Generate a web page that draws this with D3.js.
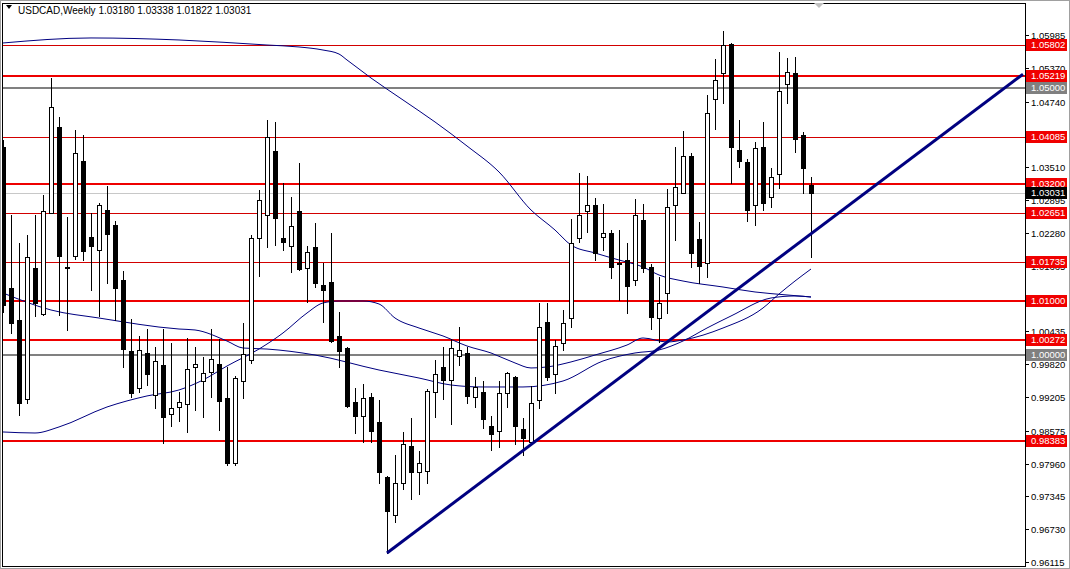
<!DOCTYPE html>
<meta charset="utf-8">
<style>
  body { margin: 0; background: #fff; }
  svg { display: block; font-family: "Liberation Sans", Arial, sans-serif; }
  .wick { stroke: #000; stroke-width: 1px; shape-rendering: crispEdges; }
  .ma { fill: none; stroke: #000080; stroke-width: 1px; }
  .tick text { font-size: 9.5px; fill: #000; }
</style>
<body>
<svg width="1070" height="569"></svg>
<script src="https://d3js.org/d3.v7.min.js"></script>
<script>
// weekly candles USDCAD, index 0 = leftmost bar on screen
var opens = [1.03891,1.01249,1.00650,0.99170,1.01624,1.00762,1.02655,1.04266,1.01624,1.01849,
  1.03629,1.02205,1.01961,1.02711,1.02429,1.01399,1.00069,0.99376,1.00032,0.99245,
  0.99807,0.98889,0.99020,0.99076,0.99770,0.99507,0.99676,0.99826,0.99189,0.97971,
  0.99507,0.99901,1.02186,1.02617,1.03816,1.02186,1.02037,1.02692,1.01624,1.02018,
  1.01305,1.01362,1.00351,1.00125,0.99114,0.98852,0.99208,0.98740,0.97709,0.96997,
  0.97597,0.98290,0.97803,0.97821,0.99302,0.99770,0.99526,0.99976,1.00032,0.99208,
  0.99302,0.98665,0.98570,0.99283,0.99582,0.98608,0.98365,0.99151,1.00613,0.99638,
  1.00219,1.00687,1.02186,1.02692,1.02804,1.02205,1.02280,1.01700,1.01774,1.01399,
  1.02523,1.01643,1.00687,1.01156,1.02804,1.03030,1.03723,1.02167,1.01718,1.04791,
  1.05278,1.05821,1.03835,1.03611,1.02804,1.03891,1.02955,1.03385,1.05071,1.05278,
  1.04116,1.03180];
var highs = [1.04022,1.02617,1.02093,1.02242,1.02617,1.02992,1.05184,1.04453,1.02580,1.04210,
  1.04116,1.02655,1.02842,1.03161,1.02504,1.01568,1.00668,1.00351,1.00481,1.00144,
  1.00481,1.00219,0.99302,1.00313,1.00144,0.99957,1.00481,1.00294,0.99770,0.99601,
  1.00594,1.02242,1.03086,1.04397,1.04360,1.03217,1.02955,1.03592,1.02037,1.02467,
  1.01718,1.02280,1.00800,1.00144,0.99376,0.99451,0.99283,0.99151,0.97720,0.98121,
  0.98552,0.98814,0.98196,0.99357,0.99901,1.00144,1.00294,1.00519,1.00144,0.99582,
  0.99507,0.98852,0.99507,0.99676,0.99601,0.98814,0.99414,1.00969,1.00969,1.00275,
  1.00837,1.02542,1.03404,1.03348,1.02936,1.02823,1.02336,1.02336,1.02093,1.02917,
  1.02823,1.01699,1.01456,1.03104,1.03891,1.04191,1.03779,1.02486,1.04865,1.05540,
  1.06064,1.05840,1.04397,1.03667,1.03985,1.04360,1.03498,1.05671,1.05558,1.05577,
  1.04173,1.03338];
var lows = [1.00800,1.00407,0.98870,0.99095,1.00725,1.00744,1.02655,1.00744,1.00463,1.01792,
  1.01774,1.01212,1.00725,1.01343,1.00650,0.99770,0.99208,0.99302,0.99432,0.99001,
  0.98346,0.98665,0.98758,0.98552,0.98964,0.98833,0.99208,0.98589,0.97933,0.97933,
  0.99189,0.99845,1.01475,1.02018,1.02055,1.01961,1.01550,1.01587,1.00988,1.01268,
  1.00613,1.00240,0.99770,0.99020,0.98533,0.98365,0.98365,0.97597,0.96285,0.96866,
  0.97484,0.97296,0.97390,0.97597,0.98833,0.99170,0.98702,0.99807,0.99095,0.99020,
  0.98627,0.98215,0.98271,0.99020,0.98327,0.98121,0.98346,0.99001,0.99526,0.99283,
  1.00088,1.00519,1.02112,1.02299,1.01774,1.01961,1.01437,1.01025,1.00781,1.01305,
  1.01550,1.00481,1.00238,1.00781,1.02149,1.03030,1.01643,1.01343,1.01456,1.04229,
  1.04716,1.03217,1.03517,1.02504,1.02429,1.02711,1.02767,1.03123,1.04716,1.03798,
  1.03030,1.01822];
var closes = [1.00931,1.00594,0.99095,1.01830,1.00969,1.02692,1.04641,1.01849,1.01634,1.03779,
  1.01942,1.02037,1.02804,1.02261,1.01249,1.00106,0.99283,1.00088,0.99638,0.99882,
  0.98833,0.99001,0.99114,0.99732,0.99826,0.99657,0.99919,0.99132,0.97971,0.99563,
  1.00013,1.02186,1.02898,1.04079,1.02561,1.02112,1.02411,1.01605,1.01924,1.01343,
  1.01212,1.00256,1.00069,0.99039,0.98852,0.99189,0.98570,0.97803,0.97072,0.97597,
  0.98327,0.97803,0.97971,0.99320,0.99638,0.99526,1.00125,1.00088,0.99227,0.99395,
  0.98796,0.98514,0.99283,0.99657,0.98665,0.98439,0.99095,1.00519,0.99582,1.00163,
  1.00594,1.02093,1.02617,1.02804,1.01905,1.02280,1.01643,1.01710,1.01287,1.02617,
  1.01624,1.00706,1.00969,1.02767,1.03142,1.03723,1.01905,1.01662,1.04528,1.05146,
  1.05802,1.03891,1.03629,1.02711,1.03872,1.02842,1.03329,1.04940,1.05297,1.04041,
  1.03498,1.03031];

// moving averages, read at some bar indexes
var maSlowIdx = [0,11,22,33,37,40,42,43,44,46,50,54,58,62,66,69,71,74,77,80,82,85,90,94,98,101];
var maSlowVal = [1.05840,1.05934,1.05896,1.05802,1.05765,1.05708,1.05633,1.05521,1.05409,1.05184,
  1.04772,1.04360,1.03910,1.03423,1.02711,1.02336,1.02055,1.01905,1.01774,1.01643,
  1.01493,1.01380,1.01268,1.01175,1.01119,1.01081];
var maMidIdx = [0,6,12,22,24,28,30,33,39,47,52,56,60,65,70,75,79,82,85,88,91,96,99,101];
var maMidVal = [1.01156,1.00837,1.00687,1.00481,1.00463,1.00256,1.00125,1.00106,0.99994,0.99713,
  0.99563,0.99432,0.99395,0.99395,0.99507,0.99882,1.00032,1.00088,1.00256,1.00500,
  1.00725,1.01062,1.01100,1.01081];
var maFastIdx = [0,4,7,13,18,22,25,28,32,35,38,40,42,45,47,49,52,55,58,61,64,66,68,71,74,78,80,83,85,90,95,97,99,101];
var maFastVal = [0.98552,0.98533,0.98646,0.99020,0.99227,0.99339,0.99526,0.99788,1.00106,1.00407,
  1.00781,1.00969,1.01006,1.01006,1.00950,1.00687,1.00500,1.00351,1.00163,1.00032,
  0.99845,0.99751,0.99770,0.99864,0.99994,1.00181,1.00313,1.00238,1.00275,1.00500,
  1.00875,1.01137,1.01380,1.01605];

// trend line (bar index, price)
var trendIdx = [48, 127.5];
var trendVal = [0.96285, 1.05255];

// horizontal levels
var levelPrices = [1.05802, 1.05219, 1.05000, 1.04085, 1.03200, 1.02651, 1.01735, 1.01000, 1.00272, 1.00000, 0.98383];
var levelKinds  = ["thin", "thick", "gray", "thin", "thick", "thin", "thin", "thick", "thick", "gray", "thick"];
var lastPrice = 1.03031;

// price scale ticks
var tickPrices = [1.05985,1.05370,1.04740,1.04125,1.03510,1.02895,1.02280,1.01665,1.01050,
  1.00435,0.99820,0.99205,0.98575,0.97960,0.97345,0.96730,0.96115];

var headerText = "USDCAD,Weekly  1.03180 1.03338 1.01822 1.03031";

//------------------------------------------------------------------------------
var svg = d3.select("svg");
var plotL = 2, plotT = 3, plotR = 1025, plotB = 566;

var x = d3.scaleLinear().domain([0, 127.5]).range([3, 1023]);
var y = d3.scaleLinear().domain([0.98383, 1.05802]).range([441, 45]);

function py(v) { return Math.round(y(v)) + 0.5; }

// outer window edge
svg.append("rect").attr("x", 0.5).attr("y", 0.5).attr("width", 1069).attr("height", 568)
  .attr("fill", "#fff").attr("stroke", "#a0a0a0");

svg.append("clipPath").attr("id", "plot")
  .append("rect").attr("x", plotL + 1).attr("y", plotT + 1)
  .attr("width", plotR - plotL - 1).attr("height", plotB - plotT - 1);

var g = svg.append("g").attr("clip-path", "url(#plot)");

// levels----------------------------------------------------------------------
var levels = levelPrices.map(function(p, i) { return { p: p, k: levelKinds[i] }; });

g.append("line")
  .attr("x1", plotL).attr("x2", plotR)
  .attr("y1", py(lastPrice)).attr("y2", py(lastPrice))
  .attr("stroke", "#c8c8c8").attr("stroke-width", 1);

g.selectAll(".level").data(levels).enter().append("line")
  .attr("class", "level")
  .attr("x1", plotL).attr("x2", plotR)
  .attr("y1", function(d) { return d.k == "thin" ? py(d.p) : Math.round(y(d.p)); })
  .attr("y2", function(d) { return d.k == "thin" ? py(d.p) : Math.round(y(d.p)); })
  .attr("stroke", function(d) { return d.k == "gray" ? "#808080" : (d.k == "thin" ? "#d20000" : "#ee0000"); })
  .attr("stroke-width", function(d) { return d.k == "thin" ? 1 : 2; })
  .style("shape-rendering", "crispEdges");

// moving averages------------------------------------------------------------
var maLine = d3.line()
  .x(function(d) { return x(d[0]); })
  .y(function(d) { return y(d[1]); })
  .curve(d3.curveMonotoneX);

[[maSlowIdx, maSlowVal], [maMidIdx, maMidVal], [maFastIdx, maFastVal]].forEach(function(m) {
  g.append("path").attr("class", "ma")
    .attr("d", maLine(m[0].map(function(v, i) { return [v, m[1][i]]; })));
});

// candles---------------------------------------------------------------------
var bars = opens.map(function(o, i) {
  return { i: i, o: o, h: highs[i], l: lows[i], c: closes[i] };
});

var candle = g.selectAll(".candle").data(bars).enter().append("g").attr("class", "candle");

candle.append("line").attr("class", "wick")
  .attr("x1", function(d) { return x(d.i) + 0.5; })
  .attr("x2", function(d) { return x(d.i) + 0.5; })
  .attr("y1", function(d) { return Math.round(y(d.h)); })
  .attr("y2", function(d) { return Math.round(y(d.l)) + 1; });

candle.append("rect")
  .attr("x", function(d) { return x(d.i) - 1.5; })
  .attr("width", 4)
  .attr("y", function(d) { return py(Math.max(d.o, d.c)); })
  .attr("height", function(d) { return Math.max(0, py(Math.min(d.o, d.c)) - py(Math.max(d.o, d.c))); })
  .attr("fill", function(d) { return d.c < d.o ? "#000" : "#fff"; })
  .attr("stroke", "#000").attr("stroke-width", 1)
  .style("shape-rendering", "crispEdges");

// trend line-----------------------------------------------------------------
g.append("line")
  .attr("x1", x(trendIdx[0])).attr("y1", y(trendVal[0]))
  .attr("x2", x(trendIdx[1])).attr("y2", y(trendVal[1]))
  .attr("stroke", "#000080").attr("stroke-width", 3);

// frame-----------------------------------------------------------------------
svg.append("rect")
  .attr("x", plotL + 0.5).attr("y", plotT + 0.5)
  .attr("width", plotR - plotL).attr("height", plotB - plotT)
  .attr("fill", "none").attr("stroke", "#000");

// chart shift marker
svg.append("path").attr("d", "M814,3 L824,3 L819,8 Z").attr("fill", "#c0c0c0");

// price scale----------------------------------------------------------------
var ticks = svg.selectAll(".tick").data(tickPrices).enter().append("g")
  .attr("class", "tick")
  .attr("transform", function(d) { return "translate(0," + py(d) + ")"; });
ticks.append("line").attr("x1", plotR).attr("x2", plotR + 4)
  .attr("stroke", "#000").style("shape-rendering", "crispEdges");
ticks.append("text").attr("x", 1031).attr("dy", "0.35em").text(function(d) { return d.toFixed(5); });

var tags = levels.concat([{ p: lastPrice, k: "last" }]);
var tag = svg.selectAll(".tag").data(tags).enter().append("g")
  .attr("class", "tag")
  .attr("transform", function(d) { return "translate(0," + Math.round(y(d.p)) + ")"; });
tag.append("rect").attr("x", plotR + 1).attr("y", -6).attr("width", 41).attr("height", 12)
  .attr("fill", function(d) { return d.k == "gray" ? "#808080" : (d.k == "last" ? "#000" : "#f00000"); });
tag.append("text").attr("x", 1031).attr("dy", "0.35em")
  .style("font-size", "9.5px").attr("fill", "#fff")
  .text(function(d) { return d.p.toFixed(5); });

// header---------------------------------------------------------------------
svg.append("path").attr("d", "M6,5 L12,5 L9,9 Z").attr("fill", "#000");
svg.append("text").attr("x", 18).attr("y", 14)
  .style("font-size", "10px").attr("fill", "#000")
  .text(headerText);
</script>
</body>
